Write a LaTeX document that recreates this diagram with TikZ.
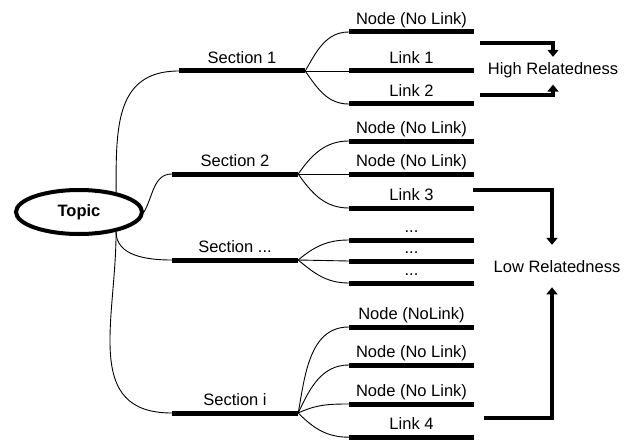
\documentclass[tikz,border=0pt]{standalone}
\usepackage{fontspec}
\setmainfont{Liberation Sans}
\usetikzlibrary{positioning,shapes.geometric,arrows.meta}
\tikzset{
	bar/.style={fill=black, inner sep=0pt, minimum height=5pt},
	secbar/.style={bar, minimum width=126pt},
	leafbar/.style={bar, minimum width=125pt},
	txt/.style={inner sep=0pt, text depth=0pt, font=\fontsize{16.5}{18}\selectfont},
	rellbl/.style={inner xsep=0pt, font=\fontsize{16.5}{18}\selectfont},
	branch/.style={line width=0.9pt},
	rel/.style={line width=3.2pt, -{Triangle[width=11pt,length=7pt]}},
}

\begin{document}
\begin{tikzpicture}[x=1pt,y=1pt]
		%%%%% START %%%%%
		\useasboundingbox (0,0) rectangle (631,440);
		
		\node[ellipse, draw, line width=4pt, minimum width=126pt, minimum height=44pt,
			font=\fontsize{16.5}{18}\selectfont\bfseries] (topic) at (79,228) {Topic};
		
		\node[secbar] (s1) at (242,369) {};
		\node[txt, above=5pt of s1] (s1t) {Section 1};
		\node[secbar] (s2) at (235,266) {};
		\node[txt, above=5pt of s2] (s2t) {Section 2};
		\node[secbar] (s3) at (235,180) {};
		\node[txt, above=5pt of s3] (s3t) {Section ...};
		\node[secbar] (s4) at (235,27) {};
		\node[txt, above=5pt of s4] (s4t) {Section i};
		
		\draw[branch] (topic.28) to[out=90, in=180, looseness=1.2] (s1.west);
		\draw[branch] (topic.east) to[out=60, in=180] (s2.west);
		\draw[branch] (topic.-28) to[out=-90, in=180] (s3.west);
		\draw[branch] (topic.-28) to[out=-90, in=180, looseness=1.2] (s4.west);
		
		% section 1
		\node[leafbar] (n11) at (411.5,408) {};
		\node[txt, above=5pt of n11] (n11t) {Node (No Link)};
		\node[leafbar] (n12) at (411.5,369) {};
		\node[txt, above=5pt of n12] (n12t) {Link 1};
		\node[leafbar] (n13) at (411.5,336) {};
		\node[txt, above=5pt of n13] (n13t) {Link 2};
		\draw[branch] (s1.east) to[out=60, in=180] (n11.west);
		\draw[branch] (s1.east) -- (n12.west);
		\draw[branch] (s1.east) to[out=-55, in=180] (n13.west);
		
		% section 2
		\node[leafbar] (n21) at (411.5,299) {};
		\node[txt, above=5pt of n21] (n21t) {Node (No Link)};
		\node[leafbar] (n22) at (411.5,266) {};
		\node[txt, above=5pt of n22] (n22t) {Node (No Link)};
		\node[leafbar] (n23) at (411.5,232) {};
		\node[txt, above=5pt of n23] (n23t) {Link 3};
		\draw[branch] (s2.east) to[out=55, in=180] (n21.west);
		\draw[branch] (s2.east) -- (n22.west);
		\draw[branch] (s2.east) to[out=-55, in=180] (n23.west);
		
		% section ...
		\node[leafbar] (n31) at (411.5,200) {};
		\node[txt, above=5pt of n31] (n31t) {...};
		\node[leafbar] (n32) at (411.5,179) {};
		\node[txt, above=5pt of n32] (n32t) {...};
		\node[leafbar] (n33) at (411.5,157) {};
		\node[txt, above=5pt of n33] (n33t) {...};
		\draw[branch] (s3.east) to[out=40, in=180] (n31.west);
		\draw[branch] (s3.east) -- (n32.west);
		\draw[branch] (s3.east) to[out=-40, in=180] (n33.west);
		
		% section i
		\node[leafbar] (n41) at (411.5,113) {};
		\node[txt, above=5pt of n41] (n41t) {Node (NoLink)};
		\node[leafbar] (n42) at (411.5,75) {};
		\node[txt, above=5pt of n42] (n42t) {Node (No Link)};
		\node[leafbar] (n43) at (411.5,36) {};
		\node[txt, above=5pt of n43] (n43t) {Node (No Link)};
		\node[leafbar] (n44) at (411.5,2.8) {};
		\node[txt, above=5pt of n44] (n44t) {Link 4};
		\draw[branch] (s4.east) to[out=80, in=180] (n41.west);
		\draw[branch] (s4.east) to[out=65, in=180] (n42.west);
		\draw[branch] (s4.east) to[out=25, in=180] (n43.west);
		\draw[branch] (s4.east) to[out=-45, in=180] (n44.west);
		
		% relatedness
		\node[rellbl, inner ysep=6pt, anchor=base] (high) at (553,365) {High Relatedness};
		\node[rellbl, inner ysep=15pt, anchor=base] (low) at (557,168) {Low Relatedness};
		
		\coordinate (a1) at (480,397);
		\coordinate (a2) at (480,345);
		\coordinate (a3) at (473,250);
		\coordinate (a4) at (484,22);
		
		\draw[rel] (a1) -| (high.north);
		\draw[rel] (a2) -| (high.south);
		\draw[rel] (a3) -| ([xshift=-5pt]low.north);
		\draw[rel] (a4) -| ([xshift=-5pt]low.south);
		%%%%% END %%%%%
	\end{tikzpicture}
\end{document}
